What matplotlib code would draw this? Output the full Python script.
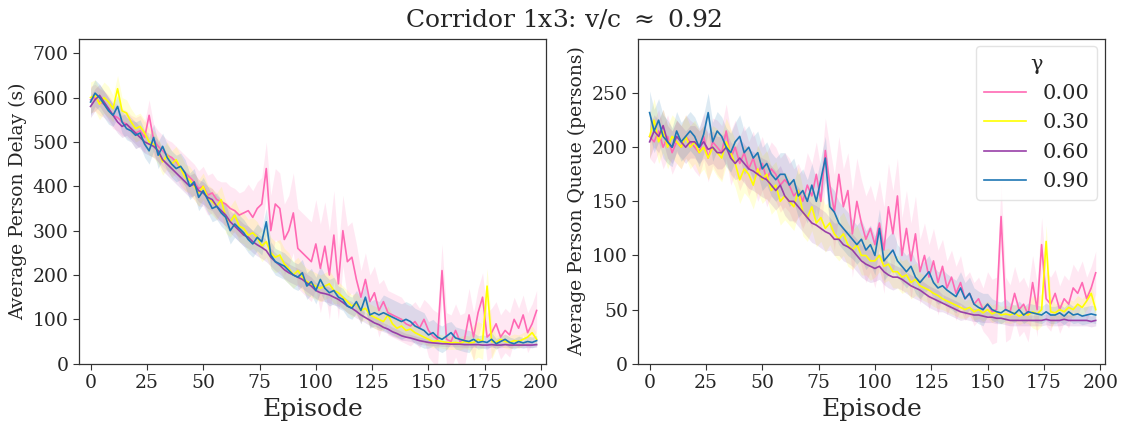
import numpy as np
import matplotlib
matplotlib.use("Agg")
import matplotlib.pyplot as plt

plt.rcParams['font.family'] = ['DejaVu Serif']
plt.rcParams['mathtext.fontset'] = 'dejavuserif'
plt.rcParams['text.color'] = '#262626'
plt.rcParams['axes.labelcolor'] = '#262626'
plt.rcParams['xtick.color'] = '#262626'
plt.rcParams['ytick.color'] = '#262626'

# episodes (every 2nd episode)
episodes = np.arange(0, 200, 2)
gammas = ['0.00', '0.30', '0.60', '0.90']
colors = ['#ff69b4', '#ffff00', '#983fa8', '#1f77b4']

# Average person delay (s)
delay_g000 = [595, 600, 590, 585, 575, 560, 555, 545, 540, 530,
              520, 525, 510, 560, 505, 490, 480, 470, 465, 455,
              440, 430, 420, 410, 395, 400, 380, 385, 370, 365,
              360, 350, 345, 335, 340, 345, 330, 350, 360, 440,
              300, 360, 350, 280, 300, 340, 260, 250, 240, 230,
              270, 215, 265, 200, 290, 180, 300, 230, 240, 190,
              150, 190, 140, 160, 120, 140, 115, 110, 105, 100,
              90, 85, 95, 80, 100, 75, 62, 55, 210, 55,
              50, 75, 50, 55, 110, 60, 115, 150, 60, 70,
              90, 60, 75, 65, 100, 80, 110, 70, 90, 120]
delay_g030 = [600, 605, 585, 600, 590, 575, 620, 570, 565, 545,
              530, 535, 520, 500, 495, 480, 455, 470, 450, 460,
              440, 420, 415, 400, 385, 400, 375, 365, 355, 370,
              330, 320, 335, 310, 305, 290, 295, 285, 265, 275,
              250, 240, 245, 225, 215, 200, 210, 195, 185, 180,
              175, 170, 175, 180, 165, 160, 150, 140, 130, 135,
              120, 125, 110, 105, 100, 95, 110, 90, 80, 85,
              75, 78, 70, 65, 60, 55, 50, 52, 50, 48,
              47, 48, 46, 50, 47, 48, 55, 50, 175, 50,
              48, 55, 50, 48, 52, 50, 55, 60, 70, 55]
delay_g060 = [580, 595, 605, 590, 575, 560, 545, 535, 540, 530,
              520, 510, 500, 495, 490, 480, 460, 450, 440, 430,
              420, 410, 400, 405, 390, 385, 375, 370, 355, 345,
              335, 320, 310, 300, 290, 285, 275, 268, 262, 255,
              240, 230, 222, 212, 205, 200, 195, 190, 182, 175,
              165, 160, 158, 155, 150, 145, 138, 130, 125, 118,
              110, 104, 98, 92, 88, 82, 78, 72, 68, 63,
              60, 58, 55, 52, 50, 48, 47, 46, 45, 45,
              44, 44, 44, 43, 43, 43, 43, 42, 42, 43,
              42, 42, 43, 42, 42, 42, 42, 42, 42, 43]
delay_g090 = [590, 610, 600, 585, 570, 560, 580, 545, 530, 525,
              515, 520, 495, 480, 510, 470, 490, 465, 450, 440,
              445, 430, 400, 410, 375, 390, 370, 350, 355, 340,
              330, 300, 315, 305, 295, 280, 270, 285, 275, 320,
              245, 230, 225, 220, 210, 200, 195, 205, 175, 185,
              165, 190, 170, 160, 165, 150, 145, 130, 125, 140,
              120, 150, 110, 115, 110, 115, 110, 105, 100, 95,
              100, 95, 85, 80, 75, 65, 70, 60, 55, 62,
              70, 58, 55, 52, 50, 55, 48, 50, 48, 55,
              45, 50, 55, 48, 45, 50, 47, 50, 48, 52]

# Average person queue (persons)
queue_g000 = [210, 205, 215, 200, 210, 195, 205, 200, 210, 205,
              200, 195, 210, 190, 205, 200, 195, 215, 190, 200,
              185, 195, 180, 190, 175, 185, 170, 180, 175, 165,
              170, 165, 155, 160, 150, 165, 155, 175, 150, 197,
              165, 140, 175, 145, 160, 120, 150, 130, 115, 125,
              110, 130, 105, 145, 120, 155, 100, 125, 95, 120,
              85, 100, 80, 95, 75, 90, 70, 80, 65, 75,
              60, 65, 55, 60, 50, 55, 48, 50, 136, 50,
              48, 65, 50, 55, 45, 75, 50, 110, 60, 55,
              65, 50, 60, 55, 70, 65, 75, 60, 70, 84]
queue_g030 = [210, 225, 205, 215, 200, 210, 205, 200, 210, 200,
              205, 195, 200, 190, 200, 195, 190, 205, 195, 185,
              170, 180, 175, 165, 180, 170, 175, 160, 165, 150,
              155, 150, 145, 160, 140, 135, 145, 130, 135, 125,
              130, 120, 115, 120, 110, 105, 110, 100, 100, 95,
              95, 100, 90, 92, 85, 85, 80, 82, 75, 78,
              72, 70, 68, 65, 63, 60, 58, 56, 54, 52,
              50, 52, 48, 50, 47, 50, 46, 48, 45, 46,
              45, 47, 44, 46, 45, 48, 46, 50, 113, 48,
              47, 50, 48, 52, 50, 55, 52, 58, 65, 50]
queue_g060 = [205, 215, 210, 220, 205, 200, 210, 205, 200, 205,
              205, 200, 205, 198, 200, 195, 195, 200, 190, 185,
              190, 185, 180, 178, 175, 172, 170, 165, 160, 165,
              155, 150, 150, 145, 140, 135, 130, 128, 125, 122,
              120, 115, 115, 110, 108, 105, 100, 95, 92, 90,
              88, 90, 85, 82, 80, 80, 78, 75, 72, 70,
              68, 65, 62, 60, 58, 56, 54, 52, 50, 48,
              47, 46, 45, 45, 44, 43, 43, 42, 42, 41,
              40, 40, 40, 40, 40, 40, 40, 40, 41, 40,
              40, 40, 41, 40, 40, 40, 40, 40, 39, 40]
queue_g090 = [232, 215, 225, 210, 205, 200, 215, 205, 210, 215,
              210, 200, 212, 232, 205, 215, 210, 200, 195, 205,
              210, 195, 200, 190, 195, 180, 185, 175, 170, 175,
              175, 165, 170, 155, 160, 150, 165, 150, 170, 190,
              145, 140, 130, 125, 120, 115, 110, 115, 105, 110,
              100, 125, 95, 100, 105, 95, 90, 85, 90, 80,
              75, 80, 85, 75, 70, 72, 68, 65, 62, 70,
              60, 65, 55, 52, 50, 55, 50, 48, 47, 50,
              48, 46, 50, 45, 48, 47, 46, 45, 48, 45,
              45, 47, 44, 48, 45, 46, 44, 45, 46, 45]

# spread of the shaded band, one value per 10-episode block
delay_spread = [
    [30, 30, 35, 35, 40, 45, 50, 60, 80, 90, 100, 80, 60, 50, 45, 60, 60, 55, 50, 45],
    [35, 30, 30, 30, 30, 30, 35, 35, 35, 30, 30, 25, 25, 20, 15, 15, 15, 40, 15, 15],
    [25, 25, 25, 25, 25, 25, 25, 25, 20, 20, 18, 15, 12, 10, 8, 6, 6, 6, 6, 6],
    [30, 25, 30, 30, 30, 30, 30, 30, 30, 30, 30, 25, 30, 40, 40, 30, 25, 15, 12, 12],
]
queue_spread = [
    [20, 20, 22, 25, 25, 25, 25, 30, 35, 40, 40, 35, 30, 25, 20, 30, 25, 25, 22, 20],
    [20, 20, 20, 22, 22, 22, 22, 22, 20, 18, 15, 15, 12, 10, 8, 8, 8, 15, 8, 8],
    [15, 15, 15, 15, 18, 18, 18, 18, 15, 15, 12, 10, 10, 8, 6, 5, 5, 5, 5, 5],
    [20, 18, 18, 18, 20, 20, 20, 20, 20, 18, 18, 15, 15, 15, 15, 10, 8, 8, 8, 8],
]

delay_series = [delay_g000, delay_g030, delay_g060, delay_g090]
queue_series = [queue_g000, queue_g030, queue_g060, queue_g090]


def draw_panel(ax, series, spreads, ylabel, ylim, yticks):
    for vals, spr, c, g in zip(series, spreads, colors, gammas):
        vals = np.array(vals, dtype=float)
        s = np.repeat(spr, 5)
        ax.fill_between(episodes, vals - s, vals + s, color=c, alpha=0.15, linewidth=0)
        ax.plot(episodes, vals, color=c, linewidth=1.2, label=g)
    ax.set_xlim(-5, 202)
    ax.set_ylim(*ylim)
    ax.set_yticks(yticks)
    ax.set_xticks([0, 25, 50, 75, 100, 125, 150, 175, 200])
    ax.tick_params(labelsize=13.5, length=4, color='#333333')
    ax.set_xlabel('Episode', fontsize=18)
    ax.set_ylabel(ylabel, fontsize=13.5)
    for sp in ax.spines.values():
        sp.set_color('#333333')
        sp.set_linewidth(0.9)


fig = plt.figure(figsize=(11.26, 4.24), dpi=100)
ax1 = fig.add_axes([0.0704, 0.1422, 0.4142, 0.7658])
ax2 = fig.add_axes([0.5669, 0.1422, 0.4142, 0.7658])

draw_panel(ax1, delay_series, delay_spread, 'Average Person Delay (s)',
           (0, 732), [0, 100, 200, 300, 400, 500, 600, 700])
draw_panel(ax2, queue_series, queue_spread, 'Average Person Queue (persons)',
           (0, 300), [0, 50, 100, 150, 200, 250])

leg = ax2.legend(title='γ', fontsize=15, title_fontsize=15, loc='upper right',
                 handlelength=2.0, borderaxespad=0.35)
leg.get_frame().set_edgecolor('#dddddd')

fig.text(0.5, 0.952, 'Corridor 1x3: v/c $\\approx$ 0.92', ha='center', va='center', fontsize=18)

fig.savefig('out.png', dpi=100)
